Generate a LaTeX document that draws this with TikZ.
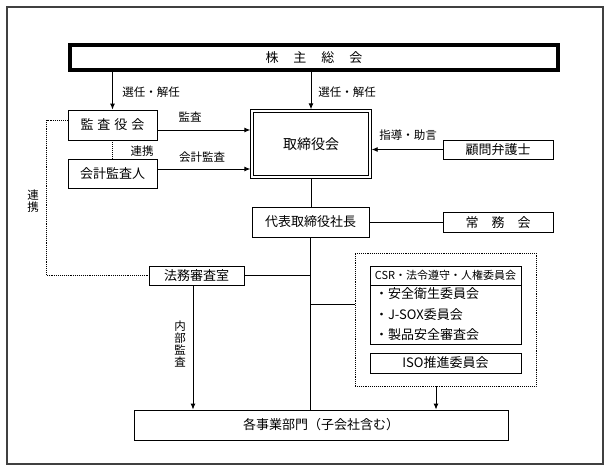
\documentclass[tikz,border=0pt]{standalone}
\usepackage{fontspec}
\setmainfont{Noto Sans CJK JP}
\usetikzlibrary{arrows.meta}
\tikzset{
  box/.style={draw, line width=0.9pt, inner sep=0pt, font=\fontsize{13}{15}\selectfont},
  lbl/.style={inner sep=0pt, font=\fontsize{11.5}{12}\selectfont},
  conn/.style={line width=0.9pt},
  arr/.style={line width=0.9pt, -{Latex[length=6pt,width=5pt]}},
  link/.style={line width=0.9pt, densely dotted}
}
\begin{document}
\begin{tikzpicture}[x=1pt,y=-1pt]
\useasboundingbox (0,0) rectangle (610,471);
\draw[line width=1.2pt, black!75] (7,7) rectangle (603,464);

\node[box, line width=4pt, minimum width=488pt, minimum height=25pt] (soukai) at (314,57.5) {株\hspace{15pt}主\hspace{15pt}総\hspace{15pt}会};
\node[box, minimum width=89pt, minimum height=30pt] (kansayaku) at (112.5,125) {監\hspace{4pt}査\hspace{4pt}役\hspace{4pt}会};
\node[box, minimum width=89pt, minimum height=29pt] (kaikei) at (112.5,173.5) {会計監査人};
\node[box, double, line width=0.7pt, double distance=2pt, outer sep=1.7pt, minimum width=118pt, minimum height=66pt, font=\fontsize{14}{16}\selectfont] (torishimari) at (311,144) {取締役会};
\node[box, minimum width=110pt, minimum height=19pt] (komon) at (498,149.5) {顧問弁護士};
\node[box, minimum width=117pt, minimum height=30pt] (shacho) at (310.5,222) {代表取締役社長};
\node[box, minimum width=110pt, minimum height=20pt] (joumu) at (498,222.5) {常　務　会};
\node[box, minimum width=95pt, minimum height=19pt] (houmu) at (196.5,275.5) {法務審査室};
\node[draw, link, minimum width=181pt, minimum height=133pt] (grp) at (445.5,319.5) {};
\node[box, minimum width=151pt, minimum height=19pt, font=\fontsize{11}{12}\selectfont] (csrhead) at (445.5,275.5) {CSR・法令遵守・人権委員会};
\node[box, minimum width=151pt, minimum height=59pt, text width=141pt, align=left, font=\fontsize{13}{20.5}\selectfont] (csrlist) at (445.5,314.5) {・安全衛生委員会\\・J-SOX委員会\\・製品安全審査会};
\node[box, minimum width=151pt, minimum height=20pt] (iso) at (445.5,363) {ISO推進委員会};
\node[box, minimum width=374pt, minimum height=30pt] (jigyou) at (321,425) {各事業部門（子会社含む）};

\node[lbl] (sen1) at (151,92) {選任・解任};
\node[lbl] (sen2) at (347,92) {選任・解任};
\node[lbl] (kansa) at (190,117) {監査};
\node[lbl] (kaikeikansa) at (202,157) {会計監査};
\node[lbl] (shidou) at (408,135) {指導・助言};
\node[lbl] (renkei1) at (142,151) {連携};
\node[lbl, align=center] (renkei2) at (33,201) {連\\携};
\node[lbl, align=center] (naibu) at (180,344) {内\\部\\監\\査};

\coordinate (kaIn) at ([yshift=-5pt]kansayaku.east);
\coordinate (kkIn) at ([yshift=4.5pt]kaikei.east);
\coordinate (kaOut) at ([yshift=5pt]kansayaku.west);
\coordinate (tap) at ([yshift=15.5pt]grp.west);
\coordinate (grpOut) at ([xshift=-9.5pt]grp.south);
\coordinate (houOut) at ([xshift=-3.5pt]houmu.south);

\draw[arr] (kansayaku |- soukai.south) -- (kansayaku.north);
\draw[arr] (torishimari |- soukai.south) -- (torishimari.north);
\draw[arr] (kaIn) -- (kaIn -| torishimari.west);
\draw[arr] (kkIn) -- (kkIn -| torishimari.west);
\draw[arr] (komon.west) -- (komon.west -| torishimari.east);
\draw[conn] (torishimari.south) -- (torishimari.south |- shacho.north);
\draw[conn] (shacho.east) -- (shacho.east -| joumu.west);
\draw[conn] (shacho.south) -- (shacho.south |- jigyou.north);
\draw[conn] (houmu.east) -- (houmu.east -| shacho.south);
\draw[conn] (tap) -- (tap -| shacho.south);
\draw[arr] (grpOut) -- (grpOut |- jigyou.north);
\draw[arr] (houOut) -- (houOut |- jigyou.north);
\draw[link] (kansayaku.south) -- (kaikei.north);
\draw[link] (kaOut) -- ++(-21,0) |- (houmu.west);
\end{tikzpicture}
\end{document}
